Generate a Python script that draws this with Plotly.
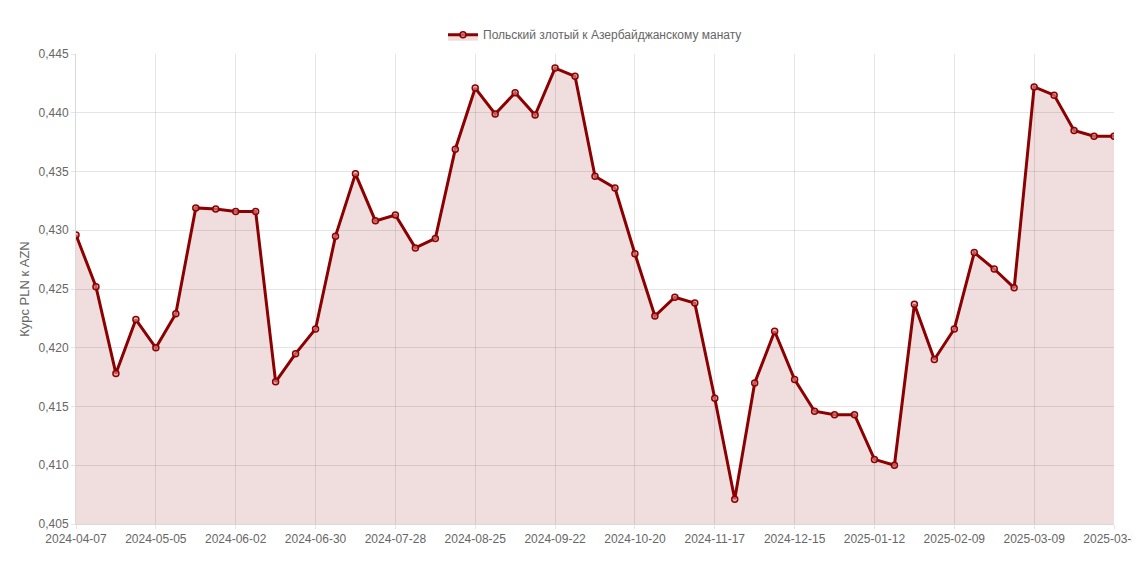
import plotly.graph_objects as go

dates = [
    "2024-04-07", "2024-04-14", "2024-04-21", "2024-04-28",
    "2024-05-05", "2024-05-12", "2024-05-19", "2024-05-26",
    "2024-06-02", "2024-06-09", "2024-06-16", "2024-06-23", "2024-06-30",
    "2024-07-07", "2024-07-14", "2024-07-21", "2024-07-28",
    "2024-08-04", "2024-08-11", "2024-08-18", "2024-08-25",
    "2024-09-01", "2024-09-08", "2024-09-15", "2024-09-22", "2024-09-29",
    "2024-10-06", "2024-10-13", "2024-10-20", "2024-10-27",
    "2024-11-03", "2024-11-10", "2024-11-17", "2024-11-24",
    "2024-12-01", "2024-12-08", "2024-12-15", "2024-12-22", "2024-12-29",
    "2025-01-05", "2025-01-12", "2025-01-19", "2025-01-26",
    "2025-02-02", "2025-02-09", "2025-02-16", "2025-02-23",
    "2025-03-02", "2025-03-09", "2025-03-16", "2025-03-23", "2025-03-30",
    "2025-03-31",
]

rates = [
    0.4296, 0.4252, 0.4178, 0.4224, 0.4200, 0.4229, 0.4319, 0.4318,
    0.4316, 0.4316, 0.4171, 0.4195, 0.4216, 0.4295, 0.4348, 0.4308,
    0.4313, 0.4285, 0.4293, 0.4369, 0.4421, 0.4399, 0.4417, 0.4398,
    0.4438, 0.4431, 0.4346, 0.4336, 0.4280, 0.4227, 0.4243, 0.4238,
    0.4157, 0.4071, 0.4170, 0.4214, 0.4173, 0.4146, 0.4143, 0.4143,
    0.4105, 0.4100, 0.4237, 0.4190, 0.4216, 0.4281, 0.4267, 0.4251,
    0.4422, 0.4415, 0.4385, 0.4380, 0.4380,
]
tick_dates = [
    "2024-04-07", "2024-05-05", "2024-06-02", "2024-06-30", "2024-07-28",
    "2024-08-25", "2024-09-22", "2024-10-20", "2024-11-17", "2024-12-15",
    "2025-01-12", "2025-02-09", "2025-03-09", "2025-03-31",
]

fig = go.Figure()
fig.add_trace(go.Scatter(
    x=dates, y=rates,
    mode="lines+markers",
    name="Польский злотый к Азербайджанскому манату",
    line=dict(color="#8b0000", width=3),
    marker=dict(size=6, color="rgba(230,150,150,0.6)",
                line=dict(color="#8b0000", width=1.5)),
    fill="tozeroy",
    fillcolor="rgba(139,0,0,0.13)",
))

fig.update_layout(
    width=1140, height=570,
    margin=dict(l=68, r=34, t=32, b=54),
    paper_bgcolor="#ffffff", plot_bgcolor="#ffffff",
    font=dict(family="Liberation Sans, Arial", size=12, color="#666"),
    separators=", ",
    showlegend=True,
    legend=dict(orientation="h", x=0.5, xanchor="center", y=1.01, yanchor="bottom",
                font=dict(size=12, color="#666")),
    xaxis=dict(
        type="category", tickvals=tick_dates, ticktext=tick_dates,
        showgrid=True, gridcolor="rgba(0,0,0,0.1)", tickangle=0,
        range=[0, len(dates) - 1], showline=True, linecolor="rgba(0,0,0,0.15)",
        automargin=False, ticks="outside", ticklen=4, tickcolor="rgba(0,0,0,0.1)",
    ),
    yaxis=dict(
        range=[0.405, 0.445], dtick=0.005, tickformat=".3f",
        showgrid=True, gridcolor="rgba(0,0,0,0.1)",
        title=dict(text="Курс PLN к AZN", font=dict(size=13), standoff=6),
        zeroline=False, showline=True, linecolor="rgba(0,0,0,0.15)",
        automargin=False, ticks="outside", ticklen=4, tickcolor="rgba(0,0,0,0.1)",
    ),
)

fig.write_html("out.html")
